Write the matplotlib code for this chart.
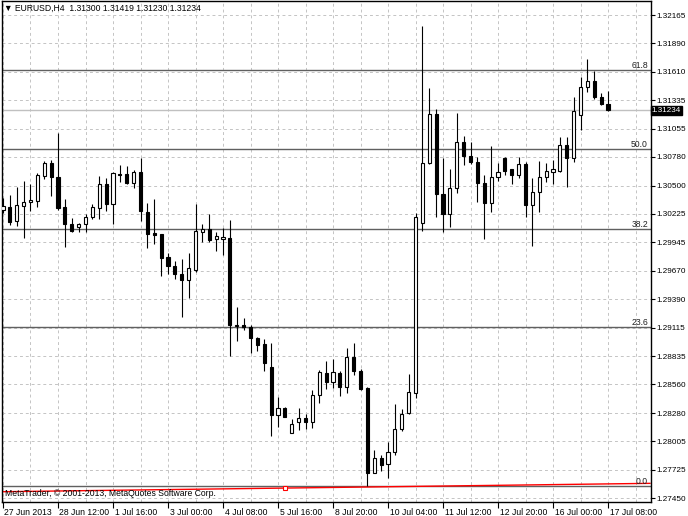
import numpy as np
import matplotlib
matplotlib.use('Agg')
import matplotlib.pyplot as plt
from matplotlib.patches import Rectangle
from matplotlib.transforms import ScaledTranslation, blended_transform_factory

# EURUSD H4, 27 Jun 2013 04:00 .. 17 Jul 2013 08:00
opens = [1.30262, 1.30294, 1.30154, 1.30304, 1.30340, 1.30350, 1.30597, 1.30718, 1.30587, 1.30294,
         1.30125, 1.30099, 1.30125, 1.30191, 1.30284, 1.30516, 1.30317, 1.30613, 1.30610, 1.30522,
         1.30633, 1.30245, 1.30034, 1.30025, 1.29800, 1.29715, 1.29637, 1.29579, 1.29676, 1.30050,
         1.30076, 1.29979, 1.29976, 1.29991, 1.29130, 1.29139, 1.29123, 1.29015, 1.28954, 1.28732,
         1.28261, 1.28332, 1.28085, 1.28196, 1.28229, 1.28193, 1.28461, 1.28674, 1.28583, 1.28674,
         1.28537, 1.28830, 1.28693, 1.28522, 1.27698, 1.27844, 1.27780, 1.27903, 1.28120, 1.28278,
         1.28479, 1.30132, 1.30723, 1.31199, 1.30418, 1.30220, 1.30472, 1.30923, 1.30789, 1.30733,
         1.30522, 1.30333, 1.30581, 1.30766, 1.30659, 1.30603, 1.30711, 1.30311, 1.30435, 1.30581,
         1.30636, 1.30645, 1.30896, 1.30766, 1.31189, 1.31459, 1.31521, 1.31368, 1.31300]
highs = [1.30379, 1.30408, 1.30489, 1.30548, 1.30516, 1.30626, 1.30737, 1.30750, 1.31013, 1.30366,
         1.30187, 1.30138, 1.30223, 1.30317, 1.30597, 1.30571, 1.30630, 1.30701, 1.30696, 1.30652,
         1.30766, 1.30335, 1.30369, 1.30028, 1.29839, 1.29764, 1.29784, 1.29839, 1.30317, 1.30125,
         1.30220, 1.30044, 1.30083, 1.30164, 1.29315, 1.29208, 1.29139, 1.29025, 1.29000, 1.28964,
         1.28440, 1.28342, 1.28222, 1.28326, 1.28271, 1.28505, 1.28703, 1.28788, 1.28811, 1.28690,
         1.28915, 1.28967, 1.28707, 1.28537, 1.27915, 1.27871, 1.28002, 1.28368, 1.28320, 1.28661,
         1.30230, 1.32058, 1.31455, 1.31243, 1.30772, 1.30665, 1.31211, 1.30984, 1.30928, 1.30782,
         1.30603, 1.30886, 1.30718, 1.30776, 1.30662, 1.30782, 1.30733, 1.30571, 1.30743, 1.30723,
         1.30750, 1.30977, 1.30977, 1.31362, 1.31557, 1.31736, 1.31618, 1.31407, 1.31419]
lows = [1.30233, 1.30115, 1.30106, 1.29991, 1.30252, 1.30294, 1.30561, 1.30401, 1.30262, 1.29898,
        1.30050, 1.30050, 1.30044, 1.30171, 1.30171, 1.30252, 1.30122, 1.30535, 1.30511, 1.30477,
        1.30157, 1.29891, 1.29927, 1.29618, 1.29637, 1.29588, 1.29218, 1.29406, 1.29660, 1.29952,
        1.29952, 1.29862, 1.29823, 1.28837, 1.28983, 1.29091, 1.28866, 1.28889, 1.28690, 1.28056,
        1.28144, 1.28239, 1.28082, 1.28115, 1.28124, 1.28131, 1.28378, 1.28512, 1.28529, 1.28444,
        1.28473, 1.28656, 1.28505, 1.27570, 1.27695, 1.27719, 1.27643, 1.27871, 1.28105, 1.28271,
        1.28424, 1.30060, 1.30711, 1.30194, 1.30044, 1.30099, 1.30431, 1.30706, 1.30711, 1.30343,
        1.29976, 1.30239, 1.30548, 1.30603, 1.30513, 1.30571, 1.30196, 1.29910, 1.30239, 1.30538,
        1.30513, 1.30636, 1.30489, 1.30733, 1.31043, 1.31411, 1.31345, 1.31287, 1.31230]
closes = [1.30301, 1.30148, 1.30311, 1.30340, 1.30357, 1.30603, 1.30718, 1.30587, 1.30278, 1.30122,
          1.30060, 1.30122, 1.30196, 1.30288, 1.30516, 1.30317, 1.30620, 1.30603, 1.30522, 1.30633,
          1.30252, 1.30032, 1.30018, 1.29798, 1.29715, 1.29634, 1.29579, 1.29693, 1.30057, 1.30076,
          1.29969, 1.30005, 1.30001, 1.29139, 1.29139, 1.29123, 1.29010, 1.28944, 1.28766, 1.28261,
          1.28329, 1.28244, 1.28170, 1.28229, 1.28188, 1.28456, 1.28681, 1.28583, 1.28678, 1.28537,
          1.28830, 1.28693, 1.28515, 1.27692, 1.27841, 1.27778, 1.27903, 1.28121, 1.28271, 1.28481,
          1.30196, 1.30723, 1.31196, 1.30416, 1.30220, 1.30474, 1.30923, 1.30792, 1.30727, 1.30522,
          1.30327, 1.30581, 1.30636, 1.30645, 1.30603, 1.30711, 1.30311, 1.30435, 1.30581, 1.30642,
          1.30659, 1.30896, 1.30766, 1.31228, 1.31459, 1.31521, 1.31368, 1.31293, 1.31234]

price_ticks = [1.32165, 1.31890, 1.31610, 1.31335, 1.31055, 1.30780, 1.30500, 1.30225, 1.29945,
               1.29670, 1.29390, 1.29115, 1.28835, 1.28560, 1.28280, 1.28005, 1.27725, 1.27450]
time_labels = ['27 Jun 2013', '28 Jun 12:00', '1 Jul 16:00', '3 Jul 00:00', '4 Jul 08:00',
               '5 Jul 16:00', '8 Jul 20:00', '10 Jul 04:00', '11 Jul 12:00', '12 Jul 20:00',
               '16 Jul 00:00', '17 Jul 08:00']
fib_low = 1.27570
fib_range = 0.06572
fib_levels = [0.0, 23.6, 38.2, 50.0, 61.8]
trend_x = [-0.44, 94.1]
trend_y = [1.27512, 1.27594]
anchor_bar = 41

plt.rcParams['font.family'] = ['Liberation Sans', 'DejaVu Sans']
fs = 6.2
fs_y = 5.9

fig = plt.figure(figsize=(6.88, 5.16), dpi=100)
ax = fig.add_axes([2 / 688, 14 / 516, 649 / 688, 501 / 516])
ax.set_xlim(-0.145, 94.25)
ax.set_ylim(1.27412, 1.32302)

n = len(opens)
idx = np.arange(n)

# grid
for gx in range(0, 95, 4):
    ax.axvline(gx, color='#c4c4c4', lw=0.7, ls=(0, (3, 3)), zorder=0)
for gy in price_ticks:
    ax.axhline(gy, color='#c4c4c4', lw=0.7, ls=(0, (3, 3)), zorder=0)

# fibonacci levels
for lv in fib_levels:
    p = fib_low + fib_range * lv / 100
    ax.axhline(p, color='#606060', lw=1.0, zorder=1)
    ax.text(93.8, p, '%.1f' % lv, ha='right', va='bottom', fontsize=fs, color='#202020', zorder=5)

# bid line
ax.axhline(closes[-1], color='#c0c0c0', lw=1.0, zorder=1)

# red trend line of the fibo object
ax.plot(trend_x, trend_y, color='#ff0000', lw=1.0, zorder=2)
ax.plot([anchor_bar], [np.interp(anchor_bar, trend_x, trend_y)], marker='s', ms=3.5,
        mfc='white', mec='#ff0000', mew=0.8, zorder=3)

# candles
bw = 0.46
for i in idx:
    o, h, l, c = opens[i], highs[i], lows[i], closes[i]
    ax.vlines(i, l, h, color='black', lw=0.8, zorder=3)
    up = c >= o
    lo_b = min(o, c)
    hgt = max(abs(c - o), 0.00001)
    ax.add_patch(Rectangle((i - bw / 2, lo_b), bw, hgt,
                           facecolor='white' if up else 'black',
                           edgecolor='black', lw=0.8, zorder=4))

# axes styling
for s in ax.spines.values():
    s.set_color('black')
    s.set_linewidth(1.0)
ax.yaxis.tick_right()
ax.set_yticks(price_ticks)
ax.set_yticklabels(['%.5f' % v for v in price_ticks], fontsize=fs_y)
ax.tick_params(axis='y', length=3, width=0.8, pad=1)
ax.set_xticks(np.arange(0, 89, 8))
ax.set_xticklabels(time_labels, fontsize=fs)
ax.tick_params(axis='x', length=4, width=0.8, pad=0.5)
for lbl in ax.get_xticklabels():
    lbl.set_ha('left')
    lbl.set_transform(lbl.get_transform() + ScaledTranslation(1.5 / 100, 0, fig.dpi_scale_trans))

# current price box
tr = blended_transform_factory(ax.transAxes, ax.transData)
ax.text(1.0012, closes[-1], '%.5f' % closes[-1], transform=tr, ha='left', va='center',
        fontsize=fs_y, color='white', zorder=6, clip_on=False,
        bbox=dict(boxstyle='square,pad=0.15', facecolor='black', edgecolor='black'))

# header and copyright
fig.text(4 / 688, 1 - 8.5 / 516, '\u25bc EURUSD,H4  %.5f %.5f %.5f %.5f'
         % (opens[-1], highs[-1], lows[-1], closes[-1]), fontsize=fs, va='center', ha='left')
fig.text(5 / 688, 1 - 494 / 516, 'MetaTrader, \u00a9 2001-2013, MetaQuotes Software Corp.',
         fontsize=fs, va='center', ha='left')

fig.savefig('out.png', dpi=100)
